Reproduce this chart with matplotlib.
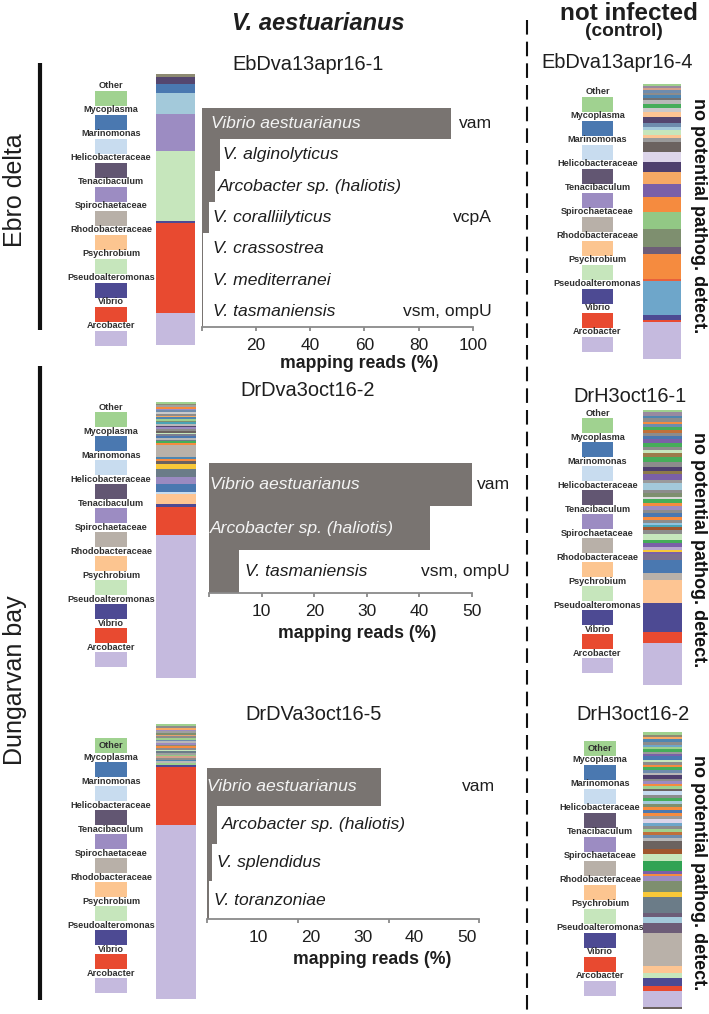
import numpy as np
import matplotlib
matplotlib.use("Agg")
import matplotlib.pyplot as plt
from matplotlib.ticker import FixedLocator, FixedFormatter, NullFormatter

plt.rcParams["font.family"] = ["Liberation Sans", "DejaVu Sans"]

W, H = 709, 1014

# 16S legend (top to bottom)
TAXA = ["Other", "Mycoplasma", "Marinomonas", "Helicobacteraceae", "Tenacibaculum",
        "Spirochaetaceae", "Rhodobacteraceae", "Psychrobium", "Pseudoalteromonas",
        "Vibrio", "Arcobacter"]
TAXA_COLORS = ["#a0d290", "#4a78b0", "#c8dcef", "#625672", "#9c8cc2", "#b8b0a8",
               "#fcc590", "#c6e6bc", "#4d4a93", "#e84a30", "#c5bade"]

# mapping reads (%) per sample
EBRO1_SPECIES = ["Vibrio aestuarianus", "V. alginolyticus", "Arcobacter sp. (haliotis)",
                 "V. coralliilyticus", "V. crassostrea", "V. mediterranei", "V. tasmaniensis"]
EBRO1_READS = [92.0, 6.7, 4.9, 2.8, 0.6, 0.6, 0.6]
EBRO1_GENES = ["vam", "", "", "vcpA", "", "", "vsm, ompU"]
EBRO1_TICKS = [0, 20, 40, 60, 80, 100]

DUNG2_SPECIES = ["Vibrio aestuarianus", "Arcobacter sp. (haliotis)", "V. tasmaniensis"]
DUNG2_READS = [50.3, 42.0, 5.7]
DUNG2_GENES = ["vam", "", "vsm, ompU"]
DUNG2_TICKS = [0, 10, 20, 30, 40, 50]

DUNG5_SPECIES = ["Vibrio aestuarianus", "Arcobacter sp. (haliotis)", "V. splendidus",
                 "V. toranzoniae"]
DUNG5_READS = [33.5, 2.0, 1.1, 0.4]
DUNG5_GENES = ["vam", "", "", ""]
DUNG5_TICK_MARKS = [0, 17.5, 35, 52.3]
DUNG5_TICK_LABELS = [10, 20, 30, 40, 50]

# 16S composition bars, segments listed from top to bottom (relative abundance)
EBRO1_COMP = [3, 7, 9, 21, 37, 70, 2, 90, 32]
EBRO1_COMP_COL = ["#8d8a72", "#54466f", "#4a78b0", "#a3c9da", "#9c8cc2", "#c6e6bc",
                  "#4d4a93", "#e84a30", "#c5bade"]

EBRO4_COMP = [6, 7, 6, 7, 7, 8, 8, 10, 12, 12, 15, 17, 13, 8, 17, 8, 12, 30, 30, 30,
              35, 40, 45, 48, 54, 23, 73, 7, 100, 17, 6, 109]
EBRO4_COMP_COL = ["#9fd08e", "#988aa0", "#d4a08a", "#6e8cad", "#8c8c8c", "#4f86b0",
                  "#727070", "#b8b8b8", "#45ad5a", "#c9c9c9", "#fdc593", "#54466f",
                  "#6e8cad", "#a3c9da", "#c6e6bc", "#fdc593", "#9a9a9a", "#6b625f",
                  "#ddd5ea", "#4e3f6e", "#f6a964", "#7a60a8", "#f58b3f", "#92c885",
                  "#7e8f6f", "#6d5d78", "#f58b3f", "#e8603c", "#6ea6ca", "#4d4a93",
                  "#e84a30", "#c5bade"]

DUNG2_COMP = [5, 5, 5, 5, 5, 5, 5, 6, 5, 5, 5, 5, 5, 5, 5, 5, 6, 5, 5, 6, 5, 5, 5, 5, 7,
              35, 6, 6, 8, 15, 25, 20, 25, 5, 30, 10, 85, 429]
DUNG2_COMP_COL = ["#9fd08e", "#8d8a72", "#a0a0a0", "#f58b3f", "#9c8cc2", "#6e8cad",
                  "#c9c9c9", "#8c8c8c", "#f6a964", "#4f86b0", "#9fd08e", "#7e8f6f",
                  "#4aa3b5", "#b8b8b8", "#54466f", "#9a8ac0", "#8c8c8c", "#6b625f",
                  "#c6e6bc", "#7e7e90", "#4a78b0", "#b8b8b8", "#6b7c88", "#45ad5a",
                  "#f58b3f", "#b9b1a9", "#4f86b0", "#f58b3f", "#6b625f", "#f8c838",
                  "#6b7c88", "#9a8ac0", "#4a78b0", "#c6dbef", "#fdc593", "#4d4a93",
                  "#e84a30", "#c5bade"]

DUNG5_COMP = [7] + [5] * 23 + [7, 173, 523]
DUNG5_COMP_COL = ["#9fd08e",
                  "#8c8c8c", "#f6a964", "#9c8cc2", "#a0a0a0", "#7e8f6f", "#e8a070",
                  "#8c8c8c", "#9fd08e", "#6e8cad", "#b8b8b8", "#9a8ac0", "#8d8a72",
                  "#f58b3f", "#8c8c8c", "#c6e6bc", "#6b7c88", "#a0a0a0", "#92c885",
                  "#d4a08a", "#8c8c8c", "#4f86b0", "#b8b8b8", "#9fd08e",
                  "#4d4a93", "#e84a30", "#c5bade"]

DRH1_COMP = [7, 10, 8, 10, 7, 10, 8, 10, 8, 10, 12, 10, 10, 10, 10, 15, 15, 12, 11, 17,
             8, 22, 8, 12, 8, 10, 10, 12, 10, 10, 10, 8, 7, 7, 8, 12, 18, 8, 12, 10,
             6, 6, 18, 38, 22, 68, 87, 35, 125]
DRH1_COMP_COL = ["#9fd08e", "#988aa0", "#4f86b0", "#8c8c8c", "#f58b3f", "#6e8cad",
                 "#45ad5a", "#c0703a", "#8c8c8c", "#4a78b0", "#7a60a8", "#45ad5a",
                 "#8c8c8c", "#c6e6bc", "#9c7a4a", "#45ad5a", "#8c8c8c", "#4e3f6e",
                 "#8d7a4a", "#7a60a8", "#9a9a9a", "#a3c9da", "#8c8c8c", "#7e8f6f",
                 "#d8d8d8", "#45ad5a", "#f58b3f", "#9c8cc2", "#8c8c8c", "#4a78b0",
                 "#f58b3f", "#8c8c8c", "#8fc3e0", "#4aa3b5", "#a0562e", "#8c8c8c",
                 "#c6e6bc", "#45ad5a", "#7a60a8", "#b8a8d0", "#f8c838", "#7a60a8",
                 "#7a7090", "#4a78b0", "#b9b1a9", "#fdc593", "#4d4a93", "#e84a30",
                 "#c5bade"]

DRH2_COMP = [10,
             6, 6, 8, 8, 8, 6, 8, 8, 6, 10, 8, 8, 6, 8, 10, 8, 10, 8, 8, 6, 8, 8, 10,
             10, 10, 8, 10, 8, 10, 10, 8, 12, 8, 10, 10, 8, 10, 9,
             25, 15, 22, 28, 10, 7, 13, 35, 15, 50, 12, 18, 30, 98, 24, 13, 25, 15,
             50, 5]
DRH2_COMP_COL = ["#9fd08e",
                 "#8d8a72", "#f6a964", "#4f86b0", "#8c8c8c", "#6ea6ca", "#9fd08e",
                 "#45ad5a", "#9a9a9a", "#7a60a8", "#4a78b0", "#c6e6bc", "#8c8c8c",
                 "#f58b3f", "#45ad5a", "#6e8cad", "#b8b8b8", "#4e3f6e", "#8c8c8c",
                 "#9c8cc2", "#f58b3f", "#9fd08e", "#6b625f", "#c6dbef", "#8c8c8c",
                 "#45ad5a", "#a3c9da", "#7e8f6f", "#f58b3f", "#4a78b0", "#f58b3f",
                 "#9a9a9a", "#ddd5ea", "#6ea6ca", "#8c8c8c", "#9fd08e", "#c0703a",
                 "#6e8cad", "#b8b8b8",
                 "#6b625f", "#a0562e", "#c6e6bc", "#31a354", "#7a60a8", "#f58b3f",
                 "#9c8cc2", "#7e8f6f", "#f8c838", "#6b7c88", "#6d5d78", "#a3c9da",
                 "#6d5d78", "#b9b1a9", "#fdc593", "#c6e6bc", "#4d4a93", "#e84a30",
                 "#c5bade", "#6b625f"]

BAR_GRAY = "#797471"
AXIS_GRAY = "#8a8a8a"
TXT = "#1e1e1e"
PX = 72 / 100  # points per pixel

fig = plt.figure(figsize=(W / 100, H / 100), dpi=100)


def rect(x0, y0, x1, y1):
    return [x0 / W, 1 - y1 / H, (x1 - x0) / W, (y1 - y0) / H]


def comp_bar(box, heights, colors):
    ax = fig.add_axes(rect(*box))
    h = np.asarray(heights, float)
    total = h.sum()
    ax.bar(0, h, bottom=total - np.cumsum(h), width=1.0, color=colors, linewidth=0)
    ax.set_xlim(-0.5, 0.5)
    ax.set_ylim(0, total)
    ax.axis("off")


STEP = 24.0


def taxa_legend(x0, x1, sw_top, other_inside=False):
    n = len(TAXA)
    ax = fig.add_axes(rect(x0, sw_top - 9, x1, sw_top - 9 + n * STEP))
    ax.set_xlim(0, 1)
    ax.set_ylim(n, 0)
    ax.axis("off")
    ax.bar(0.5, 15 / STEP, bottom=np.arange(n) + 9 / STEP, width=1.0,
           color=TAXA_COLORS, linewidth=0)
    for i, name in enumerate(TAXA):
        y = i + 4 / STEP
        if i == 0 and other_inside:
            y = i + (9 + 7.5) / STEP
        ax.text(0.5, y, name, ha="center", va="center", fontsize=6.6,
                weight="bold", color="#303030")


def reads_panel(xpix, ypix, xmax, species, reads, genes, inside_pad, out_pad,
                out_floor, gene_x):
    ax = fig.add_axes(rect(xpix[0], ypix[0], xpix[1], ypix[1]))
    n = len(species)
    rows = np.arange(n)
    ax.barh(rows, reads, height=1.0, color=BAR_GRAY, linewidth=0)
    ax.set_xlim(0, xmax)
    ax.set_ylim(n - 0.5, -0.5)
    ax.set_yticks([])
    for s in ("top", "right", "left"):
        ax.spines[s].set_visible(False)
    ax.spines["bottom"].set_color(AXIS_GRAY)
    ax.spines["bottom"].set_linewidth(1.3)
    ax.tick_params(axis="x", length=4 * PX, width=1.3, color=AXIS_GRAY,
                   labelsize=12.5, labelcolor=TXT, pad=5)
    for r, name, v, g in zip(rows, species, reads, genes):
        if v > 20:
            ax.text(inside_pad, r, name, ha="left", va="center", style="italic",
                    fontsize=12.6, color="#f4f4f4")
        else:
            ax.text(max(v, out_floor) + out_pad, r, name, ha="left", va="center",
                    style="italic", fontsize=12.6, color=TXT)
        if g:
            ax.text(gene_x, r, g, ha="right", va="center", fontsize=12.6, color=TXT,
                    transform=ax.get_yaxis_transform())
    return ax


# overlay for free text and divider lines (pixel coordinates)
ov = fig.add_axes([0, 0, 1, 1], zorder=10)
ov.set_xlim(0, W)
ov.set_ylim(H, 0)
ov.axis("off")

ov.text(318, 24, "V. aestuarianus", ha="center", va="center", fontsize=17,
        weight="bold", style="italic", color=TXT)
ov.text(629, 13, "not infected", ha="center", va="center", fontsize=17.5,
        weight="bold", color=TXT)
ov.text(624, 32, "(control)", ha="center", va="center", fontsize=13.8,
        weight="bold", color=TXT)
ov.plot([527, 527], [20, H], color="#111111", lw=1.5, dashes=(7, 3.4))

ov.plot([39.5, 39.5], [63, 330], color="#111111", lw=3, solid_capstyle="butt")
ov.plot([39.5, 39.5], [366, 1000], color="#111111", lw=3, solid_capstyle="butt")
ov.text(15, 190, "Ebro delta", rotation=90, ha="center", va="center", fontsize=18,
        color=TXT)
ov.text(15, 680, "Dungarvan bay", rotation=90, ha="center", va="center", fontsize=18,
        color=TXT)

# sample titles
for x, y, t in [(308, 65, "EbDva13apr16-1"), (308, 390, "DrDva3oct16-2"),
                (314, 715, "DrDVa3oct16-5"), (617, 63, "EbDva13apr16-4"),
                (630, 397, "DrH3oct16-1"), (633, 715, "DrH3oct16-2")]:
    ov.text(x, y, t, ha="center", va="center", fontsize=14.4, color=TXT)

for y in (216, 550, 873):
    ov.text(699, y, "no potential pathog. detect.", rotation=270, ha="center",
            va="center", fontsize=13, weight="bold", color="#111111")

for x, y in [(359, 363), (357, 633), (372, 960)]:
    ov.text(x, y, "mapping reads (%)", ha="center", va="center", fontsize=12.7,
            weight="bold", color=TXT)

# legends
taxa_legend(95, 127, 91)
taxa_legend(95, 127, 412)
taxa_legend(95, 127, 738, other_inside=True)
taxa_legend(582, 613, 97)
taxa_legend(582, 613, 418)
taxa_legend(584, 616, 741, other_inside=True)

# 16S composition bars
comp_bar((156, 74, 195, 345), EBRO1_COMP, EBRO1_COMP_COL)
comp_bar((156, 402, 196, 678), DUNG2_COMP, DUNG2_COMP_COL)
comp_bar((156, 724, 196, 999), DUNG5_COMP, DUNG5_COMP_COL)
comp_bar((643, 84, 681, 359), EBRO4_COMP, EBRO4_COMP_COL)
comp_bar((643, 410, 682, 685), DRH1_COMP, DRH1_COMP_COL)
comp_bar((643, 732, 682, 1009), DRH2_COMP, DRH2_COMP_COL)

# mapping reads panels
ax1 = reads_panel((201.7, 473.0), (108, 327), 100, EBRO1_SPECIES, EBRO1_READS,
                  EBRO1_GENES, 3.4, 1.2, 2.8, (492 - 201.7) / (473.0 - 201.7))
ax1.set_xticks(EBRO1_TICKS)
ax1.set_xticklabels([""] + [str(t) for t in EBRO1_TICKS[1:]])

ax2 = reads_panel((209.3, 471.7), (463, 593), 50, DUNG2_SPECIES, DUNG2_READS,
                  DUNG2_GENES, 0.2, 1.1, 0.0, (510 - 209.3) / (471.7 - 209.3))
ax2.set_xticks(DUNG2_TICKS)
ax2.set_xticklabels([""] + [str(t) for t in DUNG2_TICKS[1:]])

ax3 = reads_panel((206.7, 478.7), (768, 919), 52.3, DUNG5_SPECIES, DUNG5_READS,
                  DUNG5_GENES, 0.0, 0.95, 0.0, (495 - 206.7) / (478.7 - 206.7))
ax3.xaxis.set_major_locator(FixedLocator(DUNG5_TICK_MARKS))
ax3.xaxis.set_major_formatter(NullFormatter())
ax3.xaxis.set_minor_locator(FixedLocator(DUNG5_TICK_LABELS))
ax3.xaxis.set_minor_formatter(FixedFormatter([str(t) for t in DUNG5_TICK_LABELS]))
ax3.tick_params(axis="x", which="minor", length=0, labelsize=12.5, labelcolor=TXT,
                pad=5 + 4 * PX)

fig.savefig("out.png", dpi=100)
